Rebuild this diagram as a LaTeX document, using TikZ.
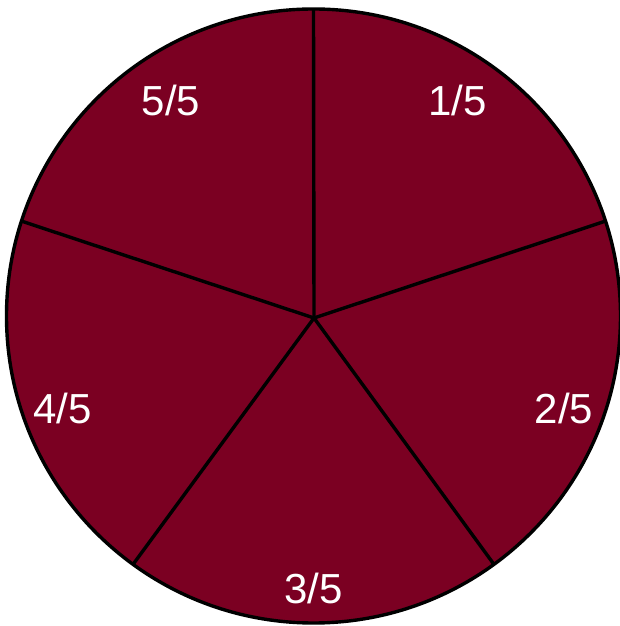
\documentclass[tikz,border=0pt]{standalone}
\usepackage{fontspec}
\setmainfont{Liberation Sans}
\usetikzlibrary{calc}
\definecolor{wine}{RGB}{123,0,34}
\begin{document}
\begin{tikzpicture}[x=1pt,y=1pt,
  pie/.style={fill=wine,draw=black,line width=3.4pt},
  spoke/.style={draw=black,line width=3.4pt},
  frac/.style={text=white,font=\fontsize{42}{42}\selectfont,inner sep=0pt,anchor=base}]
\useasboundingbox (0,0) rectangle (619,626);
\coordinate (c) at (313.5,310);
\coordinate (hub) at (314,308);
\draw[pie] (c) circle[radius=307];
\foreach \a/\n in {90/p1,18/p2,-54/p3,-126/p4,162/p5}{
  \coordinate (\n) at ($(c)+(\a:307)$);
}
\foreach \n in {p1,p2,p3,p4,p5}{
  \draw[spoke] (hub) -- (\n);
}
\node[frac] (l1) at (457.5,510) {1/5};
\node[frac] (l2) at (564,202) {2/5};
\node[frac] (l3) at (313.5,22) {3/5};
\node[frac] (l4) at (62.5,202) {4/5};
\node[frac] (l5) at (171,510) {5/5};
\end{tikzpicture}
\end{document}
